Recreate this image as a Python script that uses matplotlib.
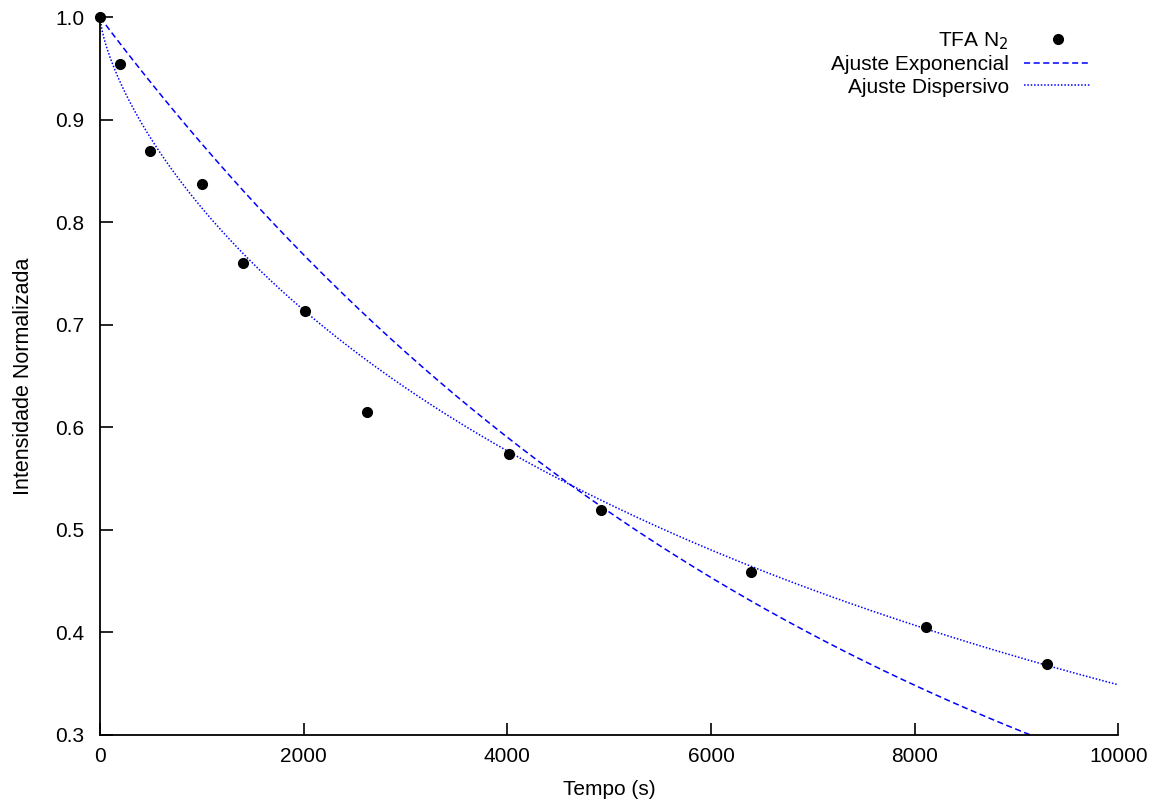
import matplotlib
matplotlib.use('Agg')
import matplotlib.pyplot as plt
import numpy as np

plt.rcParams['font.family'] = ['Liberation Sans', 'DejaVu Sans']

# measured points (TFA in N2)
tempo = [0, 195, 495, 1000, 1400, 2010, 2625, 4020, 4920, 6390, 8110, 9300]
intensidade = [1.0, 0.954, 0.870, 0.837, 0.760, 0.714, 0.615, 0.574, 0.519, 0.459, 0.405, 0.369]

# fit parameters
tau_exp = 7590.0
tau_disp = 9300.0
beta_disp = 0.709

t = np.linspace(0, 10000, 500)
ajuste_exp = np.exp(-t / tau_exp)
ajuste_disp = np.exp(-(t / tau_disp) ** beta_disp)

fs = 15

fig = plt.figure(figsize=(11.63, 8.09), dpi=100)
ax = fig.add_axes([100 / 1163, 74 / 809, 1018.3 / 1163, 717.7 / 809])

ax.plot(tempo, intensidade, 'o', color='black', markersize=7, clip_on=False,
        zorder=3, label='TFA N$_2$')
ax.plot(t, ajuste_exp, color='#0000ff', lw=1.1, dashes=(4, 2.3),
        label='Ajuste Exponencial')
ax.plot(t, ajuste_disp, color='#0000ff', lw=1.1, dashes=(1, 1.2),
        label='Ajuste Dispersivo')

ax.set_xlim(0, 10000)
ax.set_ylim(0.3, 1.0)
ax.set_xticks([0, 2000, 4000, 6000, 8000, 10000])
ax.set_yticks([0.3, 0.4, 0.5, 0.6, 0.7, 0.8, 0.9, 1.0])
ax.set_yticklabels(['0.3', '0.4', '0.5', '0.6', '0.7', '0.8', '0.9', '1.0'])
ax.tick_params(direction='in', length=9, width=1.2, labelsize=fs, pad=11)
ax.tick_params(axis='x', pad=9)
for side in ['top', 'right']:
    ax.spines[side].set_visible(False)
for side in ['left', 'bottom']:
    ax.spines[side].set_linewidth(1.3)

ax.set_xlabel('Tempo (s)', fontsize=fs, labelpad=10)
ax.set_ylabel('Intensidade Normalizada', fontsize=fs + 0.5)
ax.yaxis.set_label_coords(-66 / 1018.3, 0.5)

leg = ax.legend(loc='upper right', bbox_to_anchor=(1091 / 1163, 1 - 30 / 809),
                bbox_transform=fig.transFigure, frameon=False, markerfirst=False,
                fontsize=fs, handlelength=3.2, handletextpad=0.75,
                borderpad=0, borderaxespad=0, labelspacing=0.17)

fig.savefig('out.png', dpi=100)
